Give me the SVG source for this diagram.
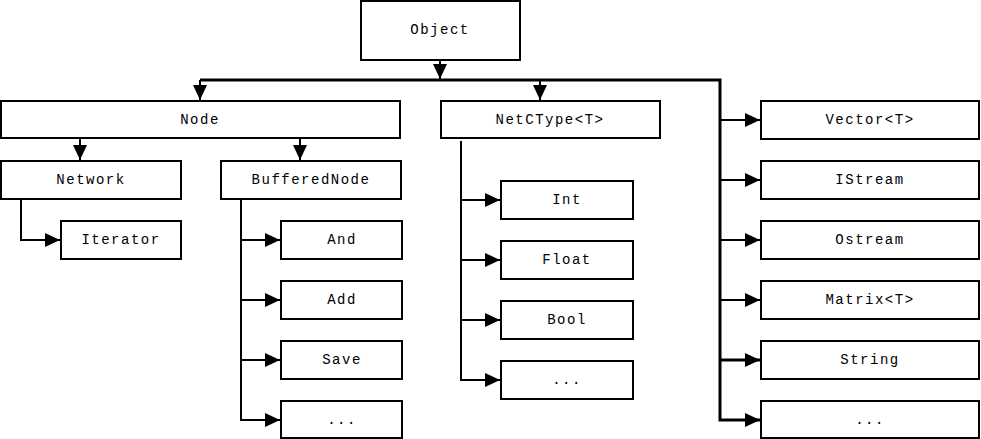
<svg xmlns="http://www.w3.org/2000/svg" width="981" height="439" viewBox="0 0 981 439">
<style>
rect{fill:#fff;stroke:#000;stroke-width:2}
text{font-family:"Liberation Mono","Courier New",monospace;font-size:14px;letter-spacing:1.5px;text-anchor:middle;dominant-baseline:central;fill:#000}
.c line,.c polyline{fill:none;stroke:#000;stroke-width:2}
.c .thick{stroke-width:3}
</style>
<defs>
<marker id="ah" viewBox="0 0 15 14" refX="15" refY="7" markerWidth="15" markerHeight="14" markerUnits="userSpaceOnUse" orient="auto"><path d="M0,0 L15,7 L0,14 Z" fill="#000"/></marker>
</defs>
<rect x="0" y="0" width="981" height="439" style="stroke:none"/>
<g class="c" id="connectors">
<line x1="440" y1="61" x2="440" y2="79" marker-end="url(#ah)"/>
<polyline class="thick" points="200,80 720,80 720,420 760,420" marker-end="url(#ah)"/>
<line x1="200" y1="80" x2="200" y2="100" marker-end="url(#ah)"/>
<line x1="540" y1="80" x2="540" y2="100" marker-end="url(#ah)"/>
<line x1="720" y1="120" x2="760" y2="120" marker-end="url(#ah)"/>
<line x1="720" y1="180" x2="760" y2="180" marker-end="url(#ah)"/>
<line x1="720" y1="240" x2="760" y2="240" marker-end="url(#ah)"/>
<line x1="720" y1="300" x2="760" y2="300" marker-end="url(#ah)"/>
<line class="thick" x1="720" y1="360" x2="760" y2="360" marker-end="url(#ah)"/>
<line x1="80" y1="139" x2="80" y2="160" marker-end="url(#ah)"/>
<line x1="300" y1="139" x2="300" y2="160" marker-end="url(#ah)"/>
<polyline points="21,199 21,240 60,240" marker-end="url(#ah)"/>
<polyline points="241,200 241,420 280,420" marker-end="url(#ah)"/>
<line x1="241" y1="240" x2="280" y2="240" marker-end="url(#ah)"/>
<line x1="241" y1="300" x2="280" y2="300" marker-end="url(#ah)"/>
<line x1="241" y1="360" x2="280" y2="360" marker-end="url(#ah)"/>
<polyline points="461,141 461,380 500,380" marker-end="url(#ah)"/>
<line x1="461" y1="200" x2="500" y2="200" marker-end="url(#ah)"/>
<line x1="461" y1="260" x2="500" y2="260" marker-end="url(#ah)"/>
<line x1="461" y1="320" x2="500" y2="320" marker-end="url(#ah)"/>
</g>
<g id="object"><rect x="361" y="1" width="159" height="59"/><text x="440" y="30">Object</text></g>
<g id="node"><rect x="1" y="101" width="399" height="37"/><text x="200" y="120">Node</text></g>
<g id="netctype"><rect x="441" y="101" width="219" height="37"/><text x="550" y="120">NetCType&lt;T&gt;</text></g>
<g id="network"><rect x="1" y="161" width="180" height="38"/><text x="91" y="180">Network</text></g>
<g id="bufferednode"><rect x="221" y="161" width="180" height="38"/><text x="311" y="180">BufferedNode</text></g>
<g id="iterator"><rect x="61" y="221" width="120" height="38"/><text x="121" y="240">Iterator</text></g>
<g id="and"><rect x="281" y="221" width="121" height="38"/><text x="342" y="240">And</text></g>
<g id="add"><rect x="281" y="281" width="121" height="38"/><text x="342" y="300">Add</text></g>
<g id="save"><rect x="281" y="341" width="121" height="38"/><text x="342" y="360">Save</text></g>
<g id="bn-more"><rect x="281" y="401" width="121" height="37"/><text x="342" y="420">...</text></g>
<g id="int"><rect x="501" y="181" width="132" height="38"/><text x="567" y="200">Int</text></g>
<g id="float"><rect x="501" y="241" width="132" height="38"/><text x="567" y="260">Float</text></g>
<g id="bool"><rect x="501" y="301" width="132" height="38"/><text x="567" y="320">Bool</text></g>
<g id="nct-more"><rect x="501" y="361" width="132" height="38"/><text x="567" y="380">...</text></g>
<g id="vector"><rect x="761" y="101" width="218" height="38"/><text x="870" y="120">Vector&lt;T&gt;</text></g>
<g id="istream"><rect x="761" y="161" width="218" height="38"/><text x="870" y="180">IStream</text></g>
<g id="ostream"><rect x="761" y="221" width="218" height="38"/><text x="870" y="240">Ostream</text></g>
<g id="matrix"><rect x="761" y="281" width="218" height="38"/><text x="870" y="300">Matrix&lt;T&gt;</text></g>
<g id="string"><rect x="761" y="341" width="218" height="38"/><text x="870" y="360">String</text></g>
<g id="obj-more"><rect x="761" y="401" width="218" height="37"/><text x="870" y="420">...</text></g>
</svg>
